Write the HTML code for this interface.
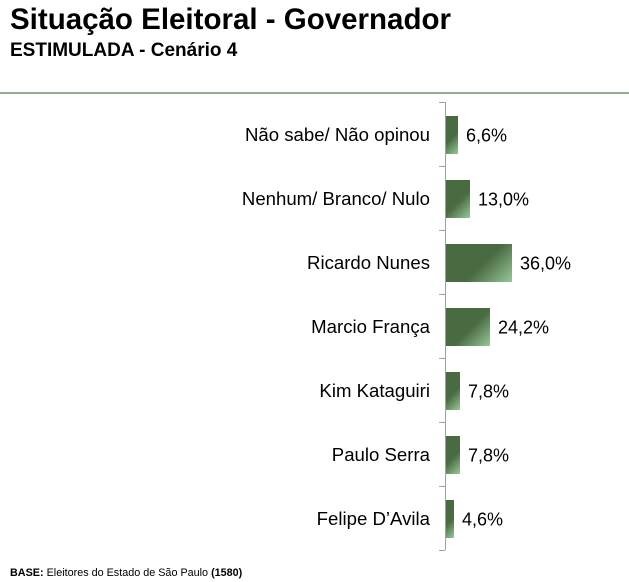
<!DOCTYPE html>
<html><head><meta charset="utf-8"><style>
body{margin:0;width:629px;height:582px;background:#fff;font-family:"Liberation Sans",sans-serif;position:relative;overflow:hidden}
.a{position:absolute;white-space:nowrap;color:#000}
.l{right:199px;font-size:18.6px;transform:translateY(-50%)}
.v{font-size:18px;transform:translateY(-45%)}
.b{position:absolute;left:446px;height:38px;background:linear-gradient(135deg,#4a6a42 0%,#4a6a42 55%,#96c89a 100%)}
.t{position:absolute;left:439px;width:6px;height:1px;background:#a0a0a0}
</style></head><body>
<div class="a" style="left:10px;top:3px;font-size:29.5px;font-weight:bold">Situação Eleitoral - Governador</div>
<div class="a" style="left:10px;top:40px;font-size:19px;font-weight:bold">ESTIMULADA - Cenário 4</div>
<div style="position:absolute;left:0;top:92px;width:629px;height:2px;background:#9aab88"></div>
<div style="position:absolute;left:445px;top:102px;width:1px;height:448px;background:#a0a0a0"></div>
<div class="t" style="top:102px"></div><div class="t" style="top:166px"></div><div class="t" style="top:230px"></div><div class="t" style="top:294px"></div><div class="t" style="top:358px"></div><div class="t" style="top:422px"></div><div class="t" style="top:486px"></div><div class="t" style="top:550px"></div>

<div class="a l" style="top:135px">Não sabe/ Não opinou</div><div class="b" style="top:116px;width:12px"></div><div class="a v" style="left:466px;top:135px">6,6%</div>
<div class="a l" style="top:199px">Nenhum/ Branco/ Nulo</div><div class="b" style="top:180px;width:24px"></div><div class="a v" style="left:478px;top:199px">13,0%</div>
<div class="a l" style="top:263px">Ricardo Nunes</div><div class="b" style="top:244px;width:66px"></div><div class="a v" style="left:520px;top:263px">36,0%</div>
<div class="a l" style="top:327px">Marcio França</div><div class="b" style="top:308px;width:44px"></div><div class="a v" style="left:498px;top:327px">24,2%</div>
<div class="a l" style="top:391px">Kim Kataguiri</div><div class="b" style="top:372px;width:14px"></div><div class="a v" style="left:468px;top:391px">7,8%</div>
<div class="a l" style="top:455px">Paulo Serra</div><div class="b" style="top:436px;width:14px"></div><div class="a v" style="left:468px;top:455px">7,8%</div>
<div class="a l" style="top:519px">Felipe D’Avila</div><div class="b" style="top:500px;width:8px"></div><div class="a v" style="left:462px;top:519px">4,6%</div>

<div class="a" style="left:10px;top:567px;font-size:10.8px"><b>BASE:</b> Eleitores do Estado de São Paulo <b>(1580)</b></div>
</body></html>
